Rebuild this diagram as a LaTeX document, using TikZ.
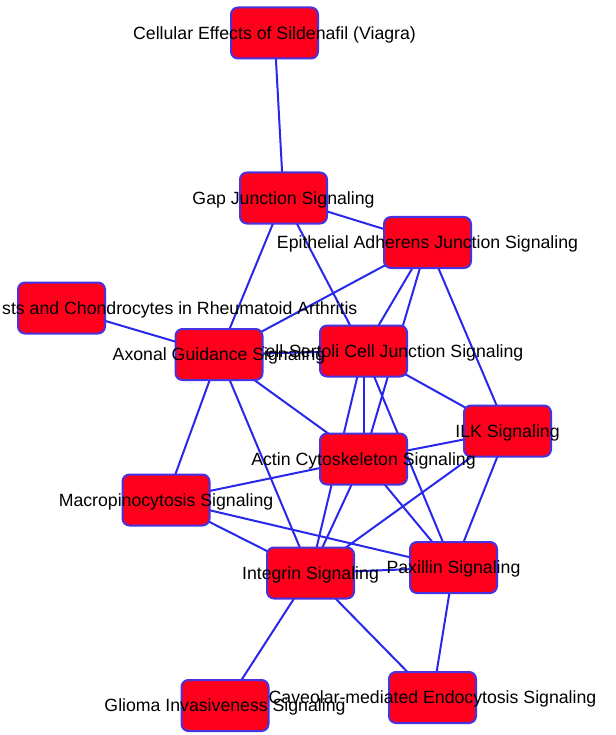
\documentclass[tikz,border=0pt]{standalone}
\usepackage{fontspec}
\setmainfont{Liberation Sans}
\usetikzlibrary{backgrounds}
\definecolor{nodefill}{RGB}{255,0,28}
\definecolor{nodeborder}{RGB}{70,50,225}
\definecolor{edgeblue}{RGB}{40,40,235}
\begin{document}
\begin{tikzpicture}[x=1pt,y=-1pt,
  box/.style={draw=nodeborder, line width=2pt, fill=nodefill, rounded corners=7pt,
              minimum width=87pt, minimum height=51pt, inner sep=0pt},
  lbl/.style={font=\fontsize{17.7}{20}\selectfont, inner sep=0pt, text=black, anchor=base},
  link/.style={draw=edgeblue, line width=2pt}]
\useasboundingbox (0,0) rectangle (615,735);

% nodes (box then label)
\node[box] (sild) at (274.5,33) {};
\node[lbl] (sildL) at ([yshift=-6.3pt]sild.center) {Cellular Effects of Sildenafil (Viagra)};
\node[box] (gap) at (283.5,198) {};
\node[lbl] (gapL) at ([yshift=-6.3pt]gap.center) {Gap Junction Signaling};
\node[box] (epi) at (427.5,242.5) {};
\node[lbl] (epiL) at ([yshift=-6.3pt]epi.center) {Epithelial Adherens Junction Signaling};
\node[box] (rheum) at (61.5,308) {};
\node[lbl, anchor=base west] (rheumL) at ([yshift=-6.3pt]2,308) {sts and Chondrocytes in Rheumatoid Arthritis};
\node[box] (sert) at (363.5,351) {};
\node[lbl] (sertL) at ([yshift=-6.3pt]sert.center) {Germ Cell-Sertoli Cell Junction Signaling};
\node[box] (axon) at (219,354.5) {};
\node[lbl] (axonL) at ([yshift=-6.3pt]axon.center) {Axonal Guidance Signaling};
\node[box] (ilk) at (507.5,431) {};
\node[lbl] (ilkL) at ([yshift=-6.3pt]ilk.center) {ILK Signaling};
\node[box] (actin) at (363.5,459) {};
\node[lbl] (actinL) at ([yshift=-6.3pt]actin.center) {Actin Cytoskeleton Signaling};
\node[box] (macro) at (166,500) {};
\node[lbl] (macroL) at ([yshift=-6.3pt]macro.center) {Macropinocytosis Signaling};
\node[box] (integ) at (310.5,573) {};
\node[lbl] (integL) at ([yshift=-6.3pt]integ.center) {Integrin Signaling};
\node[box] (pax) at (453.5,567.5) {};
\node[lbl] (paxL) at ([yshift=-6.3pt]pax.center) {Paxillin Signaling};
\node[box] (glioma) at (225,705.5) {};
\node[lbl] (gliomaL) at ([yshift=-6.3pt]glioma.center) {Glioma Invasiveness Signaling};
\node[box] (cav) at (432.5,697.5) {};
\node[lbl] (cavL) at ([yshift=-6.3pt]cav.center) {Caveolar-mediated Endocytosis Signaling};

\begin{scope}[on background layer]
\draw[link] (sild.center) -- (gap.center);
\draw[link] (gap.center) -- (epi.center);
\draw[link] (gap.center) -- (axon.center);
\draw[link] (gap.center) -- (sert.center);
\draw[link] (rheum.center) -- (axon.center);
\draw[link] (epi.center) -- (axon.center);
\draw[link] (epi.center) -- (sert.center);
\draw[link] (epi.center) -- (actin.center);
\draw[link] (epi.center) -- (ilk.center);
\draw[link] (axon.center) -- (sert.center);
\draw[link] (axon.center) -- (actin.center);
\draw[link] (axon.center) -- (integ.center);
\draw[link] (axon.center) -- (macro.center);
\draw[link] (sert.center) -- (actin.center);
\draw[link] (sert.center) -- (integ.center);
\draw[link] (sert.center) -- (pax.center);
\draw[link] (sert.center) -- (ilk.center);
\draw[link] (ilk.center) -- (actin.center);
\draw[link] (ilk.center) -- (integ.center);
\draw[link] (ilk.center) -- (pax.center);
\draw[link] (actin.center) -- (macro.center);
\draw[link] (actin.center) -- (integ.center);
\draw[link] (actin.center) -- (pax.center);
\draw[link] (macro.center) -- (integ.center);
\draw[link] (macro.center) -- (pax.center);
\draw[link] (integ.center) -- (pax.center);
\draw[link] (integ.center) -- (glioma.center);
\draw[link] (integ.center) -- (cav.center);
\draw[link] (pax.center) -- (cav.center);
\end{scope}
\end{tikzpicture}
\end{document}
